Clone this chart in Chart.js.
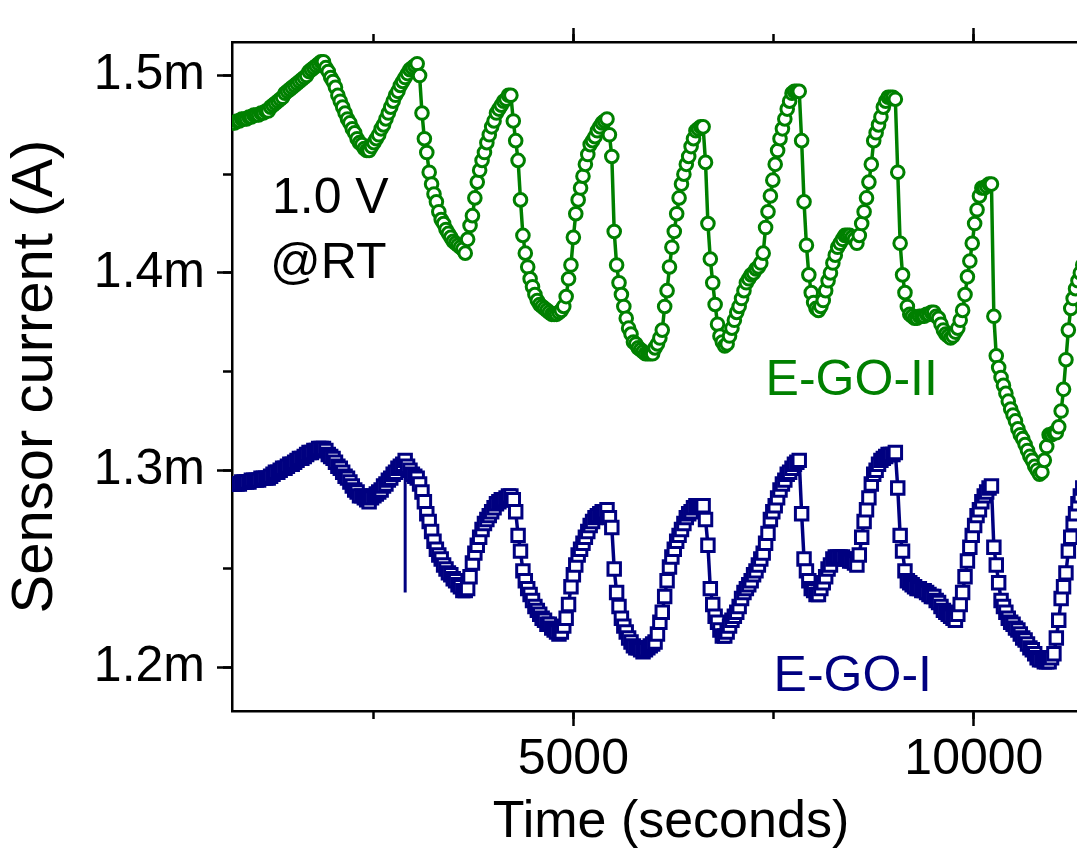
<!DOCTYPE html>
<html>
<head>
<meta charset="utf-8">
<script src="https://cdn.jsdelivr.net/npm/chart.js"></script>
<style>
  html, body { margin: 0; padding: 0; background: #fff; overflow: hidden; }
  #wrap { position: absolute; left: 0; top: 0; width: 1130px; height: 860px; }
</style>
</head>
<body>
<div id="wrap"><canvas id="chart" width="1130" height="860"></canvas></div>
<script>
// Sensor current (mA) sampled every 30 s, first sample at 740 s
var t0 = 740;
var dt = 30;

// E-GO-II (green circles)
var egoII = [
  1.476, 1.476, 1.477, 1.477, 1.478, 1.478, 1.478, 1.479, 1.479, 1.480,
  1.480, 1.480, 1.481, 1.481, 1.482, 1.482, 1.484, 1.485, 1.486, 1.487,
  1.488, 1.489, 1.491, 1.492, 1.493, 1.494, 1.495, 1.496, 1.497, 1.498,
  1.499, 1.500, 1.502, 1.503, 1.504, 1.505, 1.506, 1.507, 1.507, 1.504,
  1.502, 1.499, 1.497, 1.494, 1.490, 1.487, 1.484, 1.481, 1.478, 1.476,
  1.473, 1.471, 1.468, 1.466, 1.465, 1.463, 1.462, 1.462, 1.464, 1.466,
  1.468, 1.470, 1.473, 1.475, 1.478, 1.481, 1.484, 1.487, 1.490, 1.492,
  1.495, 1.497, 1.499, 1.501, 1.503, 1.504, 1.505, 1.506, 1.500, 1.481,
  1.468, 1.461, 1.451, 1.445, 1.440, 1.436, 1.431, 1.427, 1.425, 1.422,
  1.420, 1.418, 1.416, 1.415, 1.414, 1.413, 1.412, 1.410, 1.417, 1.424,
  1.429, 1.438, 1.446, 1.452, 1.457, 1.461, 1.466, 1.470, 1.474, 1.477,
  1.481, 1.483, 1.485, 1.487, 1.488, 1.490, 1.490, 1.477, 1.467, 1.457,
  1.437, 1.419, 1.410, 1.403, 1.397, 1.393, 1.389, 1.386, 1.384, 1.383,
  1.382, 1.381, 1.380, 1.379, 1.379, 1.379, 1.380, 1.381, 1.383, 1.388,
  1.397, 1.404, 1.418, 1.430, 1.437, 1.443, 1.449, 1.455, 1.460, 1.465,
  1.467, 1.469, 1.472, 1.474, 1.476, 1.477, 1.478, 1.470, 1.459, 1.421,
  1.404, 1.395, 1.389, 1.383, 1.377, 1.372, 1.369, 1.365, 1.364, 1.362,
  1.361, 1.360, 1.359, 1.359, 1.359, 1.359, 1.362, 1.364, 1.367, 1.371,
  1.383, 1.391, 1.403, 1.413, 1.421, 1.430, 1.438, 1.445, 1.450, 1.455,
  1.459, 1.464, 1.468, 1.472, 1.473, 1.474, 1.474, 1.456, 1.425, 1.407,
  1.395, 1.384, 1.374, 1.368, 1.365, 1.363, 1.364, 1.368, 1.372, 1.376,
  1.380, 1.383, 1.387, 1.391, 1.395, 1.397, 1.399, 1.400, 1.402, 1.403,
  1.405, 1.410, 1.423, 1.431, 1.439, 1.447, 1.455, 1.462, 1.468, 1.473,
  1.478, 1.483, 1.487, 1.491, 1.492, 1.492, 1.492, 1.467, 1.436, 1.414,
  1.399, 1.390, 1.385, 1.382, 1.381, 1.383, 1.386, 1.391, 1.396, 1.400,
  1.405, 1.409, 1.413, 1.415, 1.417, 1.419, 1.419, 1.419, 1.418, 1.417,
  1.415, 1.419, 1.425, 1.431, 1.438, 1.446, 1.455, 1.467, 1.471, 1.475,
  1.479, 1.484, 1.487, 1.489, 1.489, 1.489, 1.488, 1.451, 1.415, 1.399,
  1.390, 1.383, 1.379, 1.378, 1.377, 1.377, 1.378, 1.378, 1.378, 1.379,
  1.379, 1.380, 1.380, 1.378, 1.377, 1.374, 1.371, 1.369, 1.368, 1.367,
  1.368, 1.370, 1.372, 1.376, 1.381, 1.389, 1.398, 1.406, 1.415, 1.425,
  1.432, 1.439, 1.443, 1.443, 1.444, 1.445, 1.445, 1.378, 1.358, 1.352,
  1.347, 1.343, 1.339, 1.335, 1.331, 1.328, 1.325, 1.321, 1.318, 1.316,
  1.313, 1.310, 1.307, 1.305, 1.302, 1.300, 1.298, 1.299, 1.305, 1.312,
  1.318, 1.318, 1.319, 1.319, 1.322, 1.330, 1.341, 1.356, 1.371, 1.382,
  1.387, 1.392, 1.396, 1.400, 1.404];

// E-GO-I (navy squares)
var egoI = [
  1.293, 1.293, 1.293, 1.293, 1.294, 1.294, 1.294, 1.294, 1.295, 1.295,
  1.295, 1.295, 1.296, 1.296, 1.296, 1.296, 1.297, 1.298, 1.299, 1.299,
  1.300, 1.301, 1.301, 1.302, 1.303, 1.303, 1.304, 1.305, 1.306, 1.306,
  1.307, 1.308, 1.309, 1.309, 1.310, 1.310, 1.311, 1.311, 1.311, 1.310,
  1.308, 1.307, 1.306, 1.304, 1.302, 1.301, 1.299, 1.297, 1.296, 1.294,
  1.292, 1.290, 1.289, 1.287, 1.287, 1.286, 1.285, 1.284, 1.286, 1.287,
  1.288, 1.289, 1.290, 1.292, 1.293, 1.295, 1.296, 1.298, 1.299, 1.301,
  1.302, 1.303, 1.305, 1.302, 1.300, 1.298, 1.297, 1.296, 1.293, 1.289,
  1.284, 1.278, 1.274, 1.269, 1.264, 1.260, 1.257, 1.255, 1.252, 1.250,
  1.248, 1.247, 1.245, 1.244, 1.242, 1.241, 1.239, 1.239, 1.240, 1.246,
  1.253, 1.258, 1.262, 1.266, 1.270, 1.273, 1.275, 1.277, 1.279, 1.281,
  1.283, 1.284, 1.285, 1.285, 1.286, 1.287, 1.287, 1.285, 1.279, 1.267,
  1.259, 1.249, 1.244, 1.240, 1.237, 1.234, 1.231, 1.229, 1.227, 1.225,
  1.224, 1.222, 1.222, 1.220, 1.219, 1.218, 1.217, 1.218, 1.221, 1.225,
  1.232, 1.241, 1.247, 1.252, 1.257, 1.260, 1.263, 1.266, 1.269, 1.272,
  1.274, 1.276, 1.277, 1.278, 1.279, 1.279, 1.280, 1.276, 1.271, 1.250,
  1.238, 1.231, 1.225, 1.221, 1.218, 1.215, 1.213, 1.211, 1.210, 1.210,
  1.209, 1.208, 1.209, 1.210, 1.211, 1.212, 1.213, 1.217, 1.223, 1.228,
  1.236, 1.244, 1.251, 1.256, 1.260, 1.264, 1.267, 1.270, 1.273, 1.276,
  1.278, 1.279, 1.281, 1.282, 1.282, 1.282, 1.282, 1.275, 1.262, 1.240,
  1.232, 1.226, 1.223, 1.219, 1.216, 1.216, 1.218, 1.221, 1.224, 1.226,
  1.228, 1.231, 1.235, 1.238, 1.240, 1.242, 1.244, 1.247, 1.249, 1.252,
  1.255, 1.258, 1.263, 1.268, 1.275, 1.279, 1.282, 1.286, 1.290, 1.293,
  1.295, 1.298, 1.299, 1.301, 1.303, 1.304, 1.305, 1.278, 1.255, 1.249,
  1.244, 1.240, 1.239, 1.237, 1.237, 1.240, 1.243, 1.246, 1.250, 1.252,
  1.255, 1.256, 1.256, 1.256, 1.256, 1.255, 1.255, 1.254, 1.254, 1.253,
  1.252, 1.257, 1.266, 1.274, 1.280, 1.286, 1.293, 1.298, 1.300, 1.303,
  1.305, 1.306, 1.307, 1.308, 1.308, 1.308, 1.309, 1.291, 1.267, 1.259,
  1.249, 1.244, 1.243, 1.242, 1.241, 1.240, 1.240, 1.239, 1.239, 1.238,
  1.237, 1.236, 1.236, 1.234, 1.233, 1.231, 1.229, 1.228, 1.227, 1.226,
  1.225, 1.224, 1.227, 1.232, 1.238, 1.246, 1.254, 1.261, 1.267, 1.272,
  1.277, 1.280, 1.284, 1.287, 1.289, 1.291, 1.292, 1.261, 1.252, 1.243,
  1.234, 1.231, 1.228, 1.225, 1.223, 1.222, 1.220, 1.219, 1.217, 1.215,
  1.214, 1.212, 1.210, 1.209, 1.207, 1.205, 1.204, 1.204, 1.203, 1.203,
  1.203, 1.205, 1.207, 1.215, 1.224, 1.235, 1.241, 1.248, 1.259, 1.266,
  1.273, 1.278, 1.283, 1.287, 1.291];

// single-sample glitch in E-GO-I at 2900 s
var spikeTime = 2900;
var spikeHigh = 1.305;
var spikeLow = 1.238;

// axis ticks
var xMajorTicks = [5000, 10000];
var xMinorTicks = [2500, 5000, 7500, 10000];
var yMajorStep = 0.1;
var yMinorStep = 0.05;

// text labels inside the plot (time in s, current in mA)
var notes = [
  { text: '1.0 V', t: 1237, v: 1.4306, color: '#000' },
  { text: '@RT', t: 1212, v: 1.3972, color: '#000' },
  { text: 'E-GO-II', t: 7400, v: 1.3382, color: '#008000' },
  { text: 'E-GO-I', t: 7500, v: 1.1881, color: '#000080' }
];

var times = [];
for (var i = 0; i < egoI.length; i++) times.push(t0 + i * dt);

var green = '#008000';
var navy = '#000080';
var font = "'Liberation Sans', Arial, sans-serif";

var toPoints = vals => vals.map((v, i) => ({ x: times[i], y: v }));
var setTicks = list => (s => { s.ticks = list.map(v => ({ value: v })); });

var notesPlugin = {
  id: 'notes',
  afterDatasetsDraw(chart) {
    var ctx = chart.ctx;
    var xs = chart.scales.x, ys = chart.scales.y;
    ctx.save();
    ctx.font = '50px ' + font;
    ctx.textAlign = 'left';
    ctx.textBaseline = 'alphabetic';
    notes.forEach(n => {
      ctx.fillStyle = n.color;
      ctx.fillText(n.text, xs.getPixelForValue(n.t), ys.getPixelForValue(n.v));
    });
    ctx.restore();
  }
};

var xMin = 738, xMax = 11700;
var yMin = 1.178, yMax = 1.517;
var tickCol = '#000';

new Chart(document.getElementById('chart').getContext('2d'), {
  type: 'line',
  data: {
    datasets: [
      {
        label: 'E-GO-II',
        data: toPoints(egoII),
        borderColor: green,
        borderWidth: 3.5,
        pointStyle: 'circle',
        pointRadius: 6.3,
        pointBorderWidth: 3,
        pointBorderColor: green,
        pointBackgroundColor: '#fff',
        tension: 0
      },
      {
        label: 'E-GO-I',
        data: toPoints(egoI),
        borderColor: navy,
        borderWidth: 3.5,
        pointStyle: 'rect',
        pointRadius: 8.8,
        pointBorderWidth: 3,
        pointBorderColor: navy,
        pointBackgroundColor: '#fff',
        tension: 0
      },
      {
        label: 'spike',
        data: [{ x: spikeTime, y: spikeHigh }, { x: spikeTime, y: spikeLow }],
        borderColor: navy,
        borderWidth: 3,
        pointRadius: 0
      }
    ]
  },
  options: {
    responsive: false,
    animation: false,
    layout: { padding: { left: 0, top: 21, right: 20, bottom: 0 } },
    plugins: { legend: { display: false }, tooltip: { enabled: false } },
    scales: {
      x: {
        type: 'linear', position: 'bottom', weight: 1,
        min: xMin, max: xMax,
        afterBuildTicks: setTicks(xMajorTicks),
        afterFit: s => { s.height = 149; },
        border: { display: true, color: '#000', width: 2.5 },
        grid: { drawOnChartArea: false, drawTicks: true, tickLength: 15, tickWidth: 2.5, tickColor: tickCol },
        ticks: { maxRotation: 0, autoSkip: false, padding: 4, color: '#000',
                 font: { family: font, size: 50 }, callback: v => String(v) },
        title: { display: true, text: 'Time (seconds)', color: '#000',
                 font: { family: font, size: 52 }, padding: { top: 0, bottom: 6 } }
      },
      xMinor: {
        type: 'linear', position: 'bottom', weight: 0,
        min: xMin, max: xMax,
        afterBuildTicks: setTicks(xMinorTicks),
        afterFit: s => { s.height = 0; },
        border: { display: false },
        grid: { drawOnChartArea: false, drawTicks: true, tickLength: 8, tickWidth: 2.5, tickColor: tickCol },
        ticks: { display: false }
      },
      xTop: {
        type: 'linear', position: 'top', weight: 1,
        min: xMin, max: xMax,
        afterBuildTicks: setTicks(xMajorTicks),
        afterFit: s => { s.height = 0; },
        border: { display: true, color: '#000', width: 2.5 },
        grid: { drawOnChartArea: false, drawTicks: true, tickLength: 14, tickWidth: 2.5, tickColor: tickCol },
        ticks: { display: false }
      },
      xTopMinor: {
        type: 'linear', position: 'top', weight: 0,
        min: xMin, max: xMax,
        afterBuildTicks: setTicks(xMinorTicks),
        afterFit: s => { s.height = 0; },
        border: { display: false },
        grid: { drawOnChartArea: false, drawTicks: true, tickLength: 8, tickWidth: 2.5, tickColor: tickCol },
        ticks: { display: false }
      },
      y: {
        type: 'linear', position: 'left', weight: 1,
        min: yMin, max: yMax,
        afterFit: s => { s.width = 232; },
        border: { display: true, color: '#000', width: 2.5 },
        grid: { drawOnChartArea: false, drawTicks: true, tickLength: 15, tickWidth: 2.5, tickColor: tickCol },
        ticks: { stepSize: yMajorStep, includeBounds: false, padding: 12, color: '#000',
                 font: { family: font, size: 50 }, callback: v => v.toFixed(1) + 'm' },
        title: { display: true, text: 'Sensor current (A)', color: '#000',
                 font: { family: font, size: 58 }, padding: { top: 1, bottom: 0 } }
      },
      yMinor: {
        type: 'linear', position: 'left', weight: 0,
        min: yMin, max: yMax,
        afterFit: s => { s.width = 0; },
        border: { display: false },
        grid: { drawOnChartArea: false, drawTicks: true, tickLength: 9, tickWidth: 2.5, tickColor: tickCol },
        ticks: { stepSize: yMinorStep, includeBounds: false, display: false }
      }
    }
  },
  plugins: [notesPlugin]
});
</script>
</body>
</html>
